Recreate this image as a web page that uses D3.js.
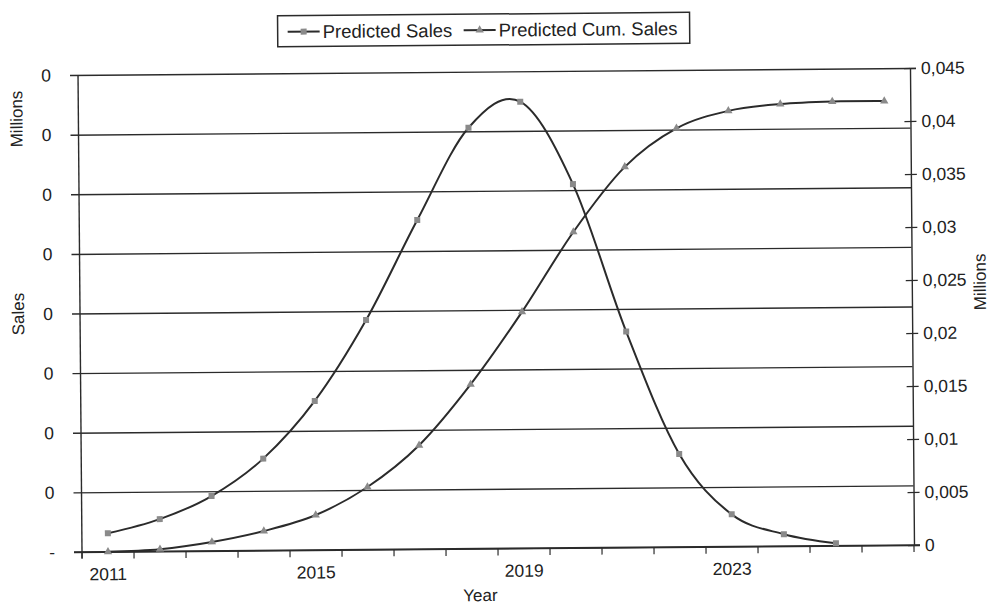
<!DOCTYPE html>
<html>
<head>
    <meta charset="utf-8">
    <title>Predicted Sales</title>
    <style>
        body { margin: 0; background: #fff; }
        text { font-family: "Liberation Sans", Arial, sans-serif; fill: #222; }
    </style>
</head>
<body>
    <script src="https://cdnjs.cloudflare.com/ajax/libs/d3/7.9.0/d3.min.js"></script>
    <script>

        // data, in millions
        const years = ["2011","2012","2013","2014","2015","2016","2017","2018",
                       "2019","2020","2021","2022","2023","2024","2025","2026"];
        const sales = [0.00031, 0.00054, 0.00092, 0.00154, 0.0025, 0.00385, 0.00552, 0.00706,
                       0.00749, 0.0061, 0.00362, 0.00156, 0.00054, 0.0002, 0.00004];
        const cumSales = [0, 0.0002, 0.00084, 0.00183, 0.0033, 0.0059, 0.0098, 0.0155,
                          0.0223, 0.0298, 0.0359, 0.0395, 0.0411, 0.0417, 0.0419, 0.0419];
        const yearLabels = ["2011","2015","2019","2023"];
        const leftTicks = [0, 0.001, 0.002, 0.003, 0.004, 0.005, 0.006, 0.007, 0.008];
        const rightTicks = [0, 0.005, 0.01, 0.015, 0.02, 0.025, 0.03, 0.035, 0.04, 0.045];

        const width = 992, height = 605;
        const margin = {top: 71.5, right: 80, bottom: 56.5, left: 80};
        const lineColor = "#2b2b2b", markColor = "#8a8a8a";

        const svg = d3.select("body").append("svg")
            .attr("width", width)
            .attr("height", height);

        // the scan is a little tilted
        const g = svg.append("g").attr("transform", "rotate(-0.48, 496, 310)");

        const x = d3.scaleBand()
            .domain(years)
            .range([margin.left, width - margin.right]);

        const yL = d3.scaleLinear()
            .domain([0, 0.008])
            .range([height - margin.bottom, margin.top]);

        const yR = d3.scaleLinear()
            .domain([0, 0.045])
            .range([height - margin.bottom, margin.top]);

        const cx = d => x(d) + x.bandwidth() / 2;

        // gridlines + left axis
        g.append("g")
            .attr("transform", `translate(${margin.left},0)`)
            .call(d3.axisLeft(yL)
                .tickValues(leftTicks)
                .tickSize(-(width - margin.left - margin.right))
                .tickPadding(27)
                .tickFormat(d => d === 0 ? "-" : d3.format(",.0f")(d)))
            .call(a => a.select(".domain").remove())
            .call(a => a.selectAll(".tick line").attr("x1", -8).attr("stroke", lineColor).attr("stroke-width", 1.4))
            .call(a => a.selectAll(".tick text").attr("font-size", 17.5).attr("font-family", null));

        g.append("line")
            .attr("x1", margin.left).attr("x2", margin.left)
            .attr("y1", yL(0.008)).attr("y2", yL(0) + 6)
            .attr("stroke", lineColor).attr("stroke-width", 1.4);

        // right axis
        g.append("g")
            .attr("transform", `translate(${width - margin.right},0)`)
            .call(d3.axisRight(yR)
                .tickValues(rightTicks)
                .tickSize(6)
                .tickPadding(5)
                .tickFormat(d => d3.format("")(d).replace(".", ",")))
            .call(a => a.select(".domain").attr("stroke", lineColor).attr("stroke-width", 1.4))
            .call(a => a.selectAll(".tick line").attr("x1", -6).attr("stroke", lineColor).attr("stroke-width", 1.2))
            .call(a => a.selectAll(".tick text").attr("font-size", 17.5).attr("font-family", null));

        // bottom axis
        const bottom = height - margin.bottom;
        g.append("line")
            .attr("x1", margin.left - 8).attr("x2", width - margin.right + 6)
            .attr("y1", bottom).attr("y2", bottom)
            .attr("stroke", lineColor).attr("stroke-width", 1.6);

        g.append("g").selectAll("line")
            .data(years.map(d => x(d)).concat([x.range()[1]]))
            .join("line")
            .attr("x1", d => d).attr("x2", d => d)
            .attr("y1", bottom).attr("y2", bottom + 7)
            .attr("stroke", lineColor).attr("stroke-width", 1.2);

        g.append("g")
            .attr("transform", `translate(0,${bottom})`)
            .call(d3.axisBottom(x).tickValues(yearLabels).tickSize(0).tickPadding(16))
            .call(a => a.select(".domain").remove())
            .call(a => a.selectAll(".tick text").attr("font-size", 17.5).attr("font-family", null));

        // lines
        const lineL = d3.line()
            .x((d, i) => cx(years[i]))
            .y(d => yL(d))
            .curve(d3.curveCardinal.tension(0));

        const lineR = d3.line()
            .x((d, i) => cx(years[i]))
            .y(d => yR(d))
            .curve(d3.curveCardinal.tension(0));

        g.append("path")
            .datum(sales)
            .attr("d", lineL)
            .attr("fill", "none")
            .attr("stroke", lineColor)
            .attr("stroke-width", 2);

        g.append("path")
            .datum(cumSales)
            .attr("d", lineR)
            .attr("fill", "none")
            .attr("stroke", lineColor)
            .attr("stroke-width", 2);

        const square = d3.symbol().type(d3.symbolSquare).size(36);
        const triangle = d3.symbol().type(d3.symbolTriangle).size(30);

        g.append("g").selectAll("path")
            .data(sales)
            .join("path")
            .attr("d", square)
            .attr("transform", (d, i) => `translate(${cx(years[i])},${yL(d)})`)
            .attr("fill", markColor);

        g.append("g").selectAll("path")
            .data(cumSales)
            .join("path")
            .attr("d", triangle)
            .attr("transform", (d, i) => `translate(${cx(years[i])},${yR(d)})`)
            .attr("fill", markColor);

        // axis titles
        g.append("text")
            .attr("transform", "translate(24,115) rotate(-90)")
            .attr("text-anchor", "middle")
            .attr("font-size", 17)
            .text("Millions");

        g.append("text")
            .attr("transform", "translate(24,310) rotate(-90)")
            .attr("text-anchor", "middle")
            .attr("font-size", 17)
            .text("Sales");

        g.append("text")
            .attr("transform", "translate(986,286) rotate(-90)")
            .attr("text-anchor", "middle")
            .attr("font-size", 17)
            .text("Millions");

        g.append("text")
            .attr("x", 478).attr("y", 601)
            .attr("text-anchor", "middle")
            .attr("font-size", 17)
            .text("Year");

        // legend
        const legend = g.append("g");
        legend.append("rect")
            .attr("x", 280).attr("y", 14)
            .attr("width", 412).attr("height", 31)
            .attr("fill", "#fff")
            .attr("stroke", lineColor)
            .attr("stroke-width", 1.5);

        const items = [
            {name: "Predicted Sales", sym: square, x: 290},
            {name: "Predicted Cum. Sales", sym: triangle, x: 466}
        ];

        items.forEach(it => {
            legend.append("line")
                .attr("x1", it.x).attr("x2", it.x + 32)
                .attr("y1", 30).attr("y2", 30)
                .attr("stroke", lineColor).attr("stroke-width", 2);
            legend.append("path")
                .attr("d", it.sym)
                .attr("transform", `translate(${it.x + 16},30)`)
                .attr("fill", markColor);
            legend.append("text")
                .attr("x", it.x + 35).attr("y", 36.5)
                .attr("font-size", 18.5)
                .text(it.name);
        });

    </script>
</body>
</html>
